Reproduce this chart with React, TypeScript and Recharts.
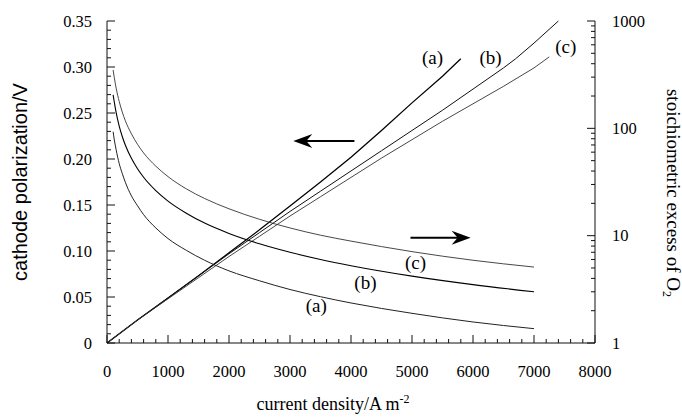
import { LineChart, Line, XAxis, YAxis, ReferenceLine, ReferenceDot } from "recharts";

// rising curves: cathode polarization (left axis, V)
const riseXA = [0, 500, 1000, 1500, 2000, 2500, 3000, 3500, 4000, 4500, 5000, 5500, 5800];
const riseA = [0, 0.025, 0.049, 0.073, 0.098, 0.123, 0.149, 0.175, 0.202, 0.231, 0.261, 0.29, 0.309];
const riseXB = [0, 500, 1000, 1500, 2000, 2500, 3000, 3500, 4000, 4500, 5000, 5500, 6000, 6500, 6700, 7000, 7400];
const riseB = [0, 0.025, 0.049, 0.073, 0.097, 0.12, 0.143, 0.165, 0.187, 0.209, 0.231, 0.253, 0.276, 0.299, 0.309, 0.326, 0.35];
const riseXC = [0, 500, 1000, 1500, 2000, 2500, 3000, 3500, 4000, 4500, 5000, 5500, 6000, 6500, 7000, 7250];
const riseC = [0, 0.025, 0.048, 0.071, 0.094, 0.116, 0.138, 0.159, 0.18, 0.201, 0.221, 0.241, 0.26, 0.279, 0.299, 0.311];

// falling curves: stoichiometric excess of O2 (right log axis)
const decayX = [100, 120, 150, 200, 250, 300, 400, 500, 600, 800, 1000, 1300, 1600, 2000, 2500, 3000, 3500, 4000, 5000, 6000, 7000];
const decayA = [93, 78, 63, 47, 38, 31.5, 23.5, 19, 15.7, 11.8, 9.4, 7.3, 5.9, 4.7, 3.8, 3.15, 2.7, 2.36, 1.89, 1.57, 1.36];
const decayB = [205, 175, 140, 105, 84, 70, 52.5, 42, 35, 26.3, 21, 16.2, 13.1, 10.5, 8.4, 7.0, 6.0, 5.25, 4.2, 3.5, 3.0];
const decayC = [350, 296, 237, 178, 142, 118, 89, 71, 59, 44.4, 35.5, 27.3, 22.2, 17.8, 14.2, 11.8, 10.1, 8.9, 7.1, 5.9, 5.1];

// tick labels
const xMajor = [0, 1000, 2000, 3000, 4000, 5000, 6000, 7000, 8000];
const xLabels = ["0", "1000", "2000", "3000", "4000", "5000", "6000", "7000", "8000"];
const leftMajor = [0, 0.05, 0.1, 0.15, 0.2, 0.25, 0.3, 0.35];
const leftLabels = ["0", "0.05", "0.10", "0.15", "0.20", "0.25", "0.30", "0.35"];
const rightMajor = [1, 10, 100, 1000];
const rightLabels = ["1", "10", "100", "1000"];

// annotations (data coords)
const curveLabels = [
  { x: 5337, y: 0.31, text: "(a)" },
  { x: 6289, y: 0.31, text: "(b)" },
  { x: 7521, y: 0.322, text: "(c)" },
  { x: 3432, y: 0.04, text: "(a)" },
  { x: 4236, y: 0.065, text: "(b)" },
  { x: 5057, y: 0.087, text: "(c)" },
];
const arrows = [
  { from: { x: 4056, y: 0.2196 }, to: { x: 3054, y: 0.2196 } },
  { from: { x: 4975, y: 0.1145 }, to: { x: 5961, y: 0.1145 } },
];

const zip = (xs: number[], ys: number[]) => xs.map((x, i) => ({ x, y: ys[i] }));

const xTicks = Array.from({ length: 41 }, (_, i) => i * 200);
const leftTicks = Array.from({ length: 36 }, (_, i) => +(i * 0.01).toFixed(2));
const rightTicks: number[] = [];
[1, 10, 100].forEach((d) => {
  for (let m = 1; m < 10; m++) rightTicks.push(d * m);
});
rightTicks.push(1000);

const SERIF = "'Liberation Serif', 'Times New Roman', serif";
const SANS = "'Liberation Sans', Arial, sans-serif";
const INK = "#111";

const idx = (arr: number[], v: number) => arr.findIndex((m) => Math.abs(m - v) < 1e-6);

function BottomTick({ x, y, payload }: any) {
  const i = idx(xMajor, payload.value);
  return (
    <g>
      <line x1={x} x2={x} y1={y} y2={y - (i >= 0 ? 8 : 4)} stroke={INK} />
      {i >= 0 && (
        <text x={x} y={y + 34} textAnchor="middle" fontFamily={SERIF} fontSize={16.5} fill="#000">
          {xLabels[i]}
        </text>
      )}
    </g>
  );
}

function TopTick({ x, y, payload }: any) {
  const major = idx(xMajor, payload.value) >= 0;
  return <line x1={x} x2={x} y1={y} y2={y + (major ? 8 : 4)} stroke={INK} />;
}

function LeftTick({ x, y, payload }: any) {
  const i = idx(leftMajor, payload.value);
  return (
    <g>
      <line x1={x} x2={x + (i >= 0 ? 8 : 4)} y1={y} y2={y} stroke={INK} />
      {i >= 0 && (
        <text x={x - 15} y={y + 5.5} textAnchor="end" fontFamily={SERIF} fontSize={16.5} fill="#000">
          {leftLabels[i]}
        </text>
      )}
    </g>
  );
}

function RightTick({ x, y, payload }: any) {
  const i = idx(rightMajor, payload.value);
  return (
    <g>
      <line x1={x} x2={x - (i >= 0 ? 8 : 4)} y1={y} y2={y} stroke={INK} />
      {i >= 0 && (
        <text x={x + 17} y={y + 5.5} textAnchor="start" fontFamily={SERIF} fontSize={16.5} fill="#000">
          {rightLabels[i]}
        </text>
      )}
    </g>
  );
}

function ArrowShape(props: any) {
  const { x1, y1, x2, y2 } = props;
  const a = Math.atan2(y2 - y1, x2 - x1);
  const c = Math.cos(a);
  const s = Math.sin(a);
  const pt = (u: number, v: number) => `${x2 + u * c - v * s},${y2 + u * s + v * c}`;
  return (
    <g>
      <line x1={x1} y1={y1} x2={x2 - 10 * c} y2={y2 - 10 * s} stroke="#000" strokeWidth={2} />
      <polygon points={`${pt(0, 0)} ${pt(-19, -7)} ${pt(-13, 0)} ${pt(-19, 7)}`} fill="#000" />
    </g>
  );
}

export default function App() {
  return (
    <div style={{ position: "absolute", left: 0, top: 0, background: "#fff" }}>
      <LineChart width={682} height={418} margin={{ top: 21, right: 0, bottom: 0, left: 0 }}>
        <XAxis
          xAxisId="bottom"
          dataKey="x"
          type="number"
          domain={[0, 8000]}
          ticks={xTicks}
          interval={0}
          height={75}
          tickLine={false}
          tickSize={0}
          tickMargin={0}
          axisLine={{ stroke: INK }}
          tick={<BottomTick />}
          label={{
            content: ({ viewBox }: any) => (
              <text
                x={viewBox.x + viewBox.width / 2 - 18}
                y={viewBox.y + 67}
                textAnchor="middle"
                fontFamily={SERIF}
                fontSize={18}
                fill="#000"
              >
                current density/A m
                <tspan dy={-7} fontSize={12}>-2</tspan>
              </text>
            ),
          }}
        />
        <XAxis
          xAxisId="top"
          orientation="top"
          dataKey="x"
          type="number"
          domain={[0, 8000]}
          ticks={xTicks}
          interval={0}
          height={0}
          tickLine={false}
          tickSize={0}
          tickMargin={0}
          axisLine={{ stroke: INK }}
          tick={<TopTick />}
        />
        <YAxis
          yAxisId="left"
          type="number"
          domain={[0, 0.35]}
          ticks={leftTicks}
          interval={0}
          width={107}
          tickLine={false}
          tickSize={0}
          tickMargin={0}
          axisLine={{ stroke: INK }}
          tick={<LeftTick />}
          label={{
            content: ({ viewBox }: any) => (
              <text
                x={20}
                y={viewBox.y + 161}
                transform={`rotate(-90, 20, ${viewBox.y + 161})`}
                textAnchor="middle"
                dominantBaseline="central"
                fontFamily={SANS}
                fontSize={20}
                fill="#000"
              >
                cathode polarization/V
              </text>
            ),
          }}
        />
        <YAxis
          yAxisId="right"
          orientation="right"
          type="number"
          scale="log"
          domain={[1, 1000]}
          ticks={rightTicks}
          interval={0}
          width={87}
          tickLine={false}
          tickSize={0}
          tickMargin={0}
          axisLine={{ stroke: INK }}
          tick={<RightTick />}
          label={{
            content: ({ viewBox }: any) => (
              <text
                x={viewBox.x + 78}
                y={viewBox.y + 172}
                transform={`rotate(90, ${viewBox.x + 78}, ${viewBox.y + 172})`}
                textAnchor="middle"
                dominantBaseline="central"
                fontFamily={SERIF}
                fontSize={19}
                fill="#000"
              >
                stoichiometric excess of O
                <tspan dy={6} fontSize={12}>2</tspan>
              </text>
            ),
          }}
        />

        <Line xAxisId="bottom" yAxisId="left" data={zip(riseXA, riseA)} dataKey="y" type="linear" dot={false} stroke="#000" strokeWidth={1.3} isAnimationActive={false} />
        <Line xAxisId="bottom" yAxisId="left" data={zip(riseXB, riseB)} dataKey="y" type="linear" dot={false} stroke={INK} strokeWidth={1} isAnimationActive={false} />
        <Line xAxisId="bottom" yAxisId="left" data={zip(riseXC, riseC)} dataKey="y" type="linear" dot={false} stroke="#333" strokeWidth={0.9} isAnimationActive={false} />

        <Line xAxisId="bottom" yAxisId="right" data={zip(decayX, decayA)} dataKey="y" type="monotone" dot={false} stroke="#222" strokeWidth={1} isAnimationActive={false} />
        <Line xAxisId="bottom" yAxisId="right" data={zip(decayX, decayB)} dataKey="y" type="monotone" dot={false} stroke="#000" strokeWidth={1.1} isAnimationActive={false} />
        <Line xAxisId="bottom" yAxisId="right" data={zip(decayX, decayC)} dataKey="y" type="monotone" dot={false} stroke="#333" strokeWidth={0.9} isAnimationActive={false} />

        {arrows.map((a, i) => (
          <ReferenceLine
            key={`arrow-${i}`}
            xAxisId="bottom"
            yAxisId="left"
            segment={[a.from, a.to]}
            shape={<ArrowShape />}
          />
        ))}
        {curveLabels.map((l, i) => (
          <ReferenceDot
            key={`lbl-${i}`}
            xAxisId="bottom"
            yAxisId="left"
            x={l.x}
            y={l.y}
            r={0}
            shape={(p: any) => (
              <text x={p.cx} y={p.cy + 6} textAnchor="middle" fontFamily={SERIF} fontSize={19} fill="#000">
                {l.text}
              </text>
            )}
          />
        ))}
      </LineChart>
    </div>
  );
}
